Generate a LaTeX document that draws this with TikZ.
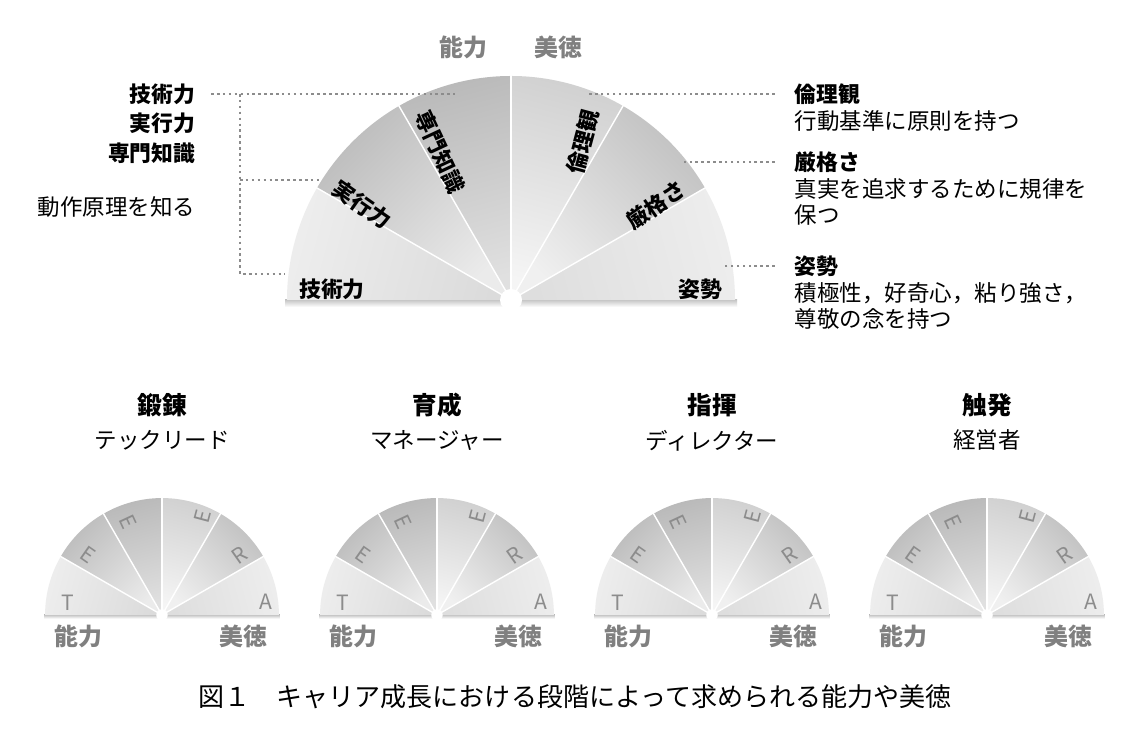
\documentclass[tikz,border=0pt]{standalone}
\usepackage{fontspec}
\setmainfont{Noto Sans CJK JP}
\usetikzlibrary{positioning}
\tikzset{sector line/.style={draw=white, line width=1pt},
	blade text/.style={font=\fontsize{15.5}{18}\selectfont\bfseries, inner sep=0pt},
	side title/.style={font=\fontsize{15.5}{18}\selectfont\bfseries, inner sep=1pt},
	side text/.style={font=\fontsize{16}{18.5}\selectfont, inner sep=1pt, align=left},
	gray label/.style={font=\fontsize{17}{20}\selectfont\bfseries, text=black!50, inner sep=1pt},
	letter/.style={font=\fontsize{15}{18}\selectfont, text=black!45, inner sep=0pt},
	stage title/.style={font=\fontsize{17.5}{20}\selectfont\bfseries, inner sep=1pt},
	stage role/.style={font=\fontsize{16}{18}\selectfont, inner sep=1pt},
	leader/.style={black!45, line width=1.8pt, dash pattern=on 1.8pt off 2.4pt},
	fan/.pic={
		\shade[top color=black!22, bottom color=white] (-226,-7) rectangle (226,0);
		\foreach \a/\co/\ci in {0/black!7/black!13, 30/black!24/black!6, 60/black!18/black!4,
			90/black!27/black!12, 120/black!26/black!8, 150/black!7/black!14}{
			\pgfmathsetmacro\sa{\a+15-90}
			\shade[top color=\co, bottom color=\ci, shading angle=\sa]
			(0,0) -- (\a:224) arc[start angle=\a, end angle=\a+30, radius=224] -- cycle;
		}
		\foreach \a in {30,60,...,150}
		\draw[sector line] (0,0) -- (\a:226);
		\fill[white] (0,0) circle (11);
	},
}

\begin{document}
\begin{tikzpicture}[x=0.025cm, y=0.025cm]
	\fill[white] (0,0) rectangle (1148,741);
	
	% big fan
	\pic at (511,441) {fan};
	\node[blade text] (skill) at (332,452) {技術力};
	\node[blade text, rotate=-35] (action) at (362,536) {実行力};
	\node[blade text, rotate=-65] (expert) at (440,589) {専門知識};
	\node[blade text, rotate=75] (ethics) at (583,599) {倫理観};
	\node[blade text, rotate=35] (rigor) at (656,536) {厳格さ};
	\node[blade text] (stance) at (700,452) {姿勢};
	\node[gray label] (ability) at (463,694) {能力};
	\node[gray label] (virtue) at (558,694) {美徳};
	
	% left side
	\node[side title, anchor=east] (l-skill) at (197,647) {技術力};
	\node[side title, anchor=east] (l-action) at (197,618) {実行力};
	\node[side title, anchor=east] (l-expert) at (197,588) {専門知識};
	\node[side text, anchor=east] (l-know) at (197,534) {動作原理を知る};
	\coordinate (c-expert) at (455,649);
	\coordinate (c-action) at (320,561);
	\coordinate (c-skill) at (285,467);
	\coordinate (trunk) at (240,647);
	\draw[leader, shorten <=10pt] (l-skill.east) -- (l-skill.east -| c-expert);
	\draw[leader] (trunk) |- (c-skill);
	\draw[leader] (trunk |- c-action) -- (c-action);
	
	% right side
	\node[side title, anchor=west] (r-ethics) at (793,647) {倫理観};
	\node[side text, below=2pt of r-ethics.south west, anchor=north west] (r-ethics-d) {行動基準に原則を持つ};
	\node[side title, anchor=west] (r-rigor) at (793,579) {厳格さ};
	\node[side text, below=2pt of r-rigor.south west, anchor=north west] (r-rigor-d) {真実を追求するために規律を\\保つ};
	\node[side title, anchor=west] (r-stance) at (793,475) {姿勢};
	\node[side text, below=2pt of r-stance.south west, anchor=north west] (r-stance-d) {積極性，好奇心，粘り強さ，\\尊敬の念を持つ};
	\coordinate (c-ethics) at (588,650);
	\coordinate (c-rigor) at (683,576);
	\coordinate (c-stance) at (722,478);
	\draw[leader, shorten <=13pt] (r-ethics.west) -- (r-ethics.west -| c-ethics);
	\draw[leader, shorten <=13pt] (r-rigor.west) -- (r-rigor.west -| c-rigor);
	\draw[leader, shorten <=13pt] (r-stance.west) -- (r-stance.west -| c-stance);
	
	% career stages
	\foreach \cx/\stage/\role in {162/鍛錬/テックリード, 437/育成/マネージャー,
		712/指揮/ディレクター, 987/触発/経営者}{
		\node[stage title] (title\cx) at (\cx,336) {\stage};
		\node[stage role, below=7pt of title\cx] (role\cx) {\role};
		\pic[scale=0.522] at (\cx,126) {fan};
		\node[letter] (t\cx) at (\cx-94,138) {T};
		\node[letter, rotate=-35] (e\cx) at (\cx-74,186) {E};
		\node[letter, rotate=-65] (ee\cx) at (\cx-34,219) {E};
		\node[letter, rotate=75] (eee\cx) at (\cx+41,224) {E};
		\node[letter, rotate=35] (r\cx) at (\cx+78,186) {R};
		\node[letter] (a\cx) at (\cx+104,139) {A};
		\node[gray label] (ab\cx) at (\cx-84,105) {能力};
		\node[gray label] (vi\cx) at (\cx+81,105) {美徳};
	}
	
	\node[font=\fontsize{18.5}{22}\selectfont] (caption) at (575,44) {図１　キャリア成長における段階によって求められる能力や美徳};
\end{tikzpicture}
\end{document}
